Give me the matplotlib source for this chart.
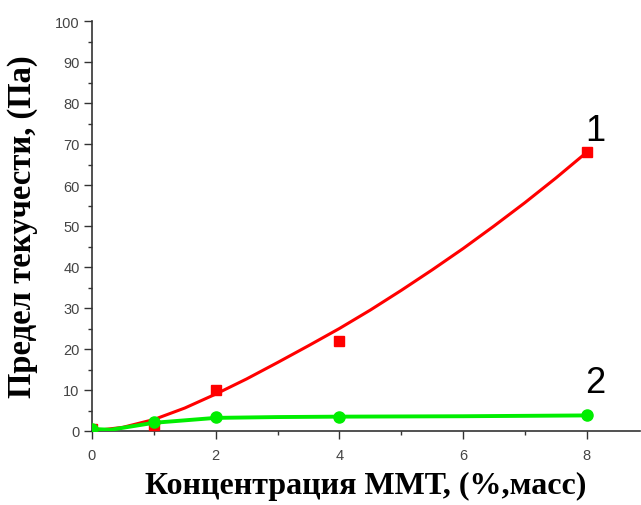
import matplotlib
matplotlib.use("Agg")
import matplotlib.pyplot as plt
from matplotlib.ticker import MultipleLocator

# measured points
conc = [0, 1, 2, 4, 8]
red_pts = [0.5, 1.5, 10, 22, 68]
green_pts = [0.5, 2.2, 3.4, 3.5, 3.8]

# fitted curves
red_fit_x = [0, 0.5, 1, 1.5, 2, 2.5, 3, 3.5, 4, 4.5, 5, 5.5, 6, 6.5, 7, 7.5, 8]
red_fit_y = [0, 0.9, 2.8, 5.6, 9, 12.7, 16.7, 20.8, 25, 29.5, 34.3, 39.3,
             44.5, 50, 55.7, 61.7, 68]
green_fit_x = [0, 0.3, 1, 2, 3, 4, 6, 8]
green_fit_y = [0.5, 0.3, 2.0, 3.2, 3.4, 3.5, 3.6, 3.8]

axis_col = "#333333"

fig = plt.figure(figsize=(6.41, 5.06), dpi=100)
ax = fig.add_axes([92 / 641, 74 / 506, 548 / 641, 410 / 506])

ax.plot(red_fit_x, red_fit_y, color="#ff0000", lw=2.2, zorder=3)
ax.plot(conc, red_pts, "s", color="#ff0000", ms=7, zorder=4)
ax.plot(green_fit_x, green_fit_y, color="#00ee00", lw=2.8, zorder=3)
ax.plot(conc, green_pts, "o", color="#00ee00", ms=8, zorder=5)

ax.set_xlim(0, 8.86)
ax.set_ylim(0, 100)
ax.xaxis.set_major_locator(MultipleLocator(2))
ax.xaxis.set_minor_locator(MultipleLocator(1))
ax.yaxis.set_major_locator(MultipleLocator(10))
ax.yaxis.set_minor_locator(MultipleLocator(5))

for s in ["top", "right"]:
    ax.spines[s].set_visible(False)
for s in ["left", "bottom"]:
    ax.spines[s].set_color(axis_col)
    ax.spines[s].set_linewidth(1.2)

ax.tick_params(which="major", direction="out", length=6, width=1, color=axis_col,
               labelsize=10.5, labelcolor="#444444", pad=3)
ax.tick_params(which="minor", direction="out", length=3, width=1, color=axis_col)
for lab in ax.get_xticklabels() + ax.get_yticklabels():
    lab.set_family("Liberation Sans")
ax.tick_params(axis="x", pad=6)

ax.set_xlabel("Концентрация ММТ, (%,масс)", family="Liberation Serif",
              fontweight="bold", fontsize=23, labelpad=7)
ax.set_ylabel("Предел текучести, (Па)", family="Liberation Serif",
              fontweight="bold", fontsize=23.5, labelpad=12)

ax.text(7.97, 71, "1", family="Liberation Sans", fontsize=26, ha="left", va="baseline")
ax.text(7.97, 9.5, "2", family="Liberation Sans", fontsize=26, ha="left", va="baseline")

fig.savefig("out.png", dpi=100)
